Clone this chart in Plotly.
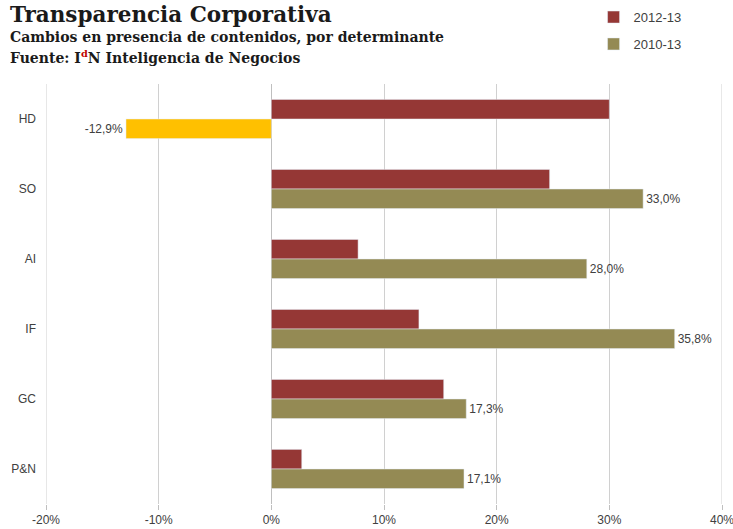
import plotly.graph_objects as go

categories = ["HD", "SO", "AI", "IF", "GC", "P&N"]
s2012 = [30.0, 24.7, 7.7, 13.1, 15.3, 2.7]
s2010 = [-12.9, 33.0, 28.0, 35.8, 17.3, 17.1]
series_names = ["2012-13", "2010-13"]
x_ticks = [-20, -10, 0, 10, 20, 30, 40]

RED = "#953735"
OLIVE = "#948A54"
YELLOW = "#FFC000"
GRID = "#D0D0D0"

neg_cats = [c for c, v in zip(categories, s2010) if v < 0]
neg_vals = [v for v in s2010 if v < 0]
pos_cats = [c for c, v in zip(categories, s2010) if v >= 0]
pos_vals = [v for v in s2010 if v >= 0]

fig = go.Figure()
fig.add_trace(go.Bar(
    y=categories, x=s2012, orientation="h", name=series_names[0],
    marker=dict(color=RED), offsetgroup="a", legendgroup="a",
))
fig.add_trace(go.Bar(
    y=pos_cats, x=pos_vals, orientation="h", name=series_names[1],
    marker=dict(color=OLIVE), offsetgroup="b", legendgroup="b",
    texttemplate="%{x:.1f}%", textposition="outside",
    textfont=dict(family="Liberation Sans, Arial", size=12, color="#404040"),
    cliponaxis=False,
))
fig.add_trace(go.Bar(
    y=neg_cats, x=neg_vals, orientation="h", name=series_names[1],
    marker=dict(color=YELLOW), offsetgroup="b", legendgroup="b", showlegend=False,
    texttemplate="%{x:.1f}%", textposition="outside",
    textfont=dict(family="Liberation Sans, Arial", size=12, color="#404040"),
    cliponaxis=False,
))

# gridlines at the range edges (plotly omits them)
for xv in (x_ticks[0], x_ticks[-1]):
    fig.add_vline(x=xv, line=dict(color=GRID, width=1), layer="below")

fig.update_layout(
    width=733, height=529,
    margin=dict(l=46, r=11, t=84, b=25, autoexpand=False),
    paper_bgcolor="white", plot_bgcolor="white",
    barmode="group", bargap=0.44, bargroupgap=0,
    separators=",.",
    font=dict(family="Liberation Sans, Arial", color="#404040"),
    xaxis=dict(
        range=[x_ticks[0], x_ticks[-1]], tickvals=x_ticks,
        ticktext=[f"{t}%" for t in x_ticks],
        showgrid=True, gridcolor=GRID, gridwidth=1,
        zeroline=True, zerolinecolor="#BFBFBF", zerolinewidth=1,
        ticks="outside", ticklen=5, tickcolor="#BFBFBF",
        tickfont=dict(size=12, color="#404040"),
        showline=False, automargin=False, ticklabeloverflow="allow",
    ),
    yaxis=dict(
        categoryorder="array", categoryarray=categories,
        autorange="reversed",
        showgrid=False, zeroline=False, showline=False,
        ticks="", ticklabelstandoff=9, automargin=False,
        tickfont=dict(size=12, color="#404040"),
    ),
    legend=dict(
        x=0.81, y=1.195, xanchor="left", yanchor="top",
        font=dict(size=13, color="#404040"),
        traceorder="grouped", tracegroupgap=7,
        bgcolor="rgba(0,0,0,0)",
    ),
    annotations=[
        dict(text="<b>Transparencia Corporativa</b>", xref="paper", yref="paper",
             x=-0.056, y=1.165, xanchor="left", yanchor="middle", showarrow=False,
             font=dict(family="DejaVu Serif", size=21.5, color="#1a1a1a")),
        dict(text="<b>Cambios en presencia de contenidos, por determinante</b>",
             xref="paper", yref="paper", x=-0.056, y=1.112, xanchor="left",
             yanchor="middle", showarrow=False,
             font=dict(family="DejaVu Serif", size=14, color="#1a1a1a")),
        dict(text="<b>Fuente: I<sup><span style='color:#C00000'>d</span></sup>N Inteligencia de Negocios</b>",
             xref="paper", yref="paper", x=-0.056, y=1.064, xanchor="left",
             yanchor="middle", showarrow=False,
             font=dict(family="DejaVu Serif", size=14, color="#1a1a1a")),
    ],
)

fig.write_html("out.html", config={"displayModeBar": False},
               post_script="document.body.style.margin='0';")
